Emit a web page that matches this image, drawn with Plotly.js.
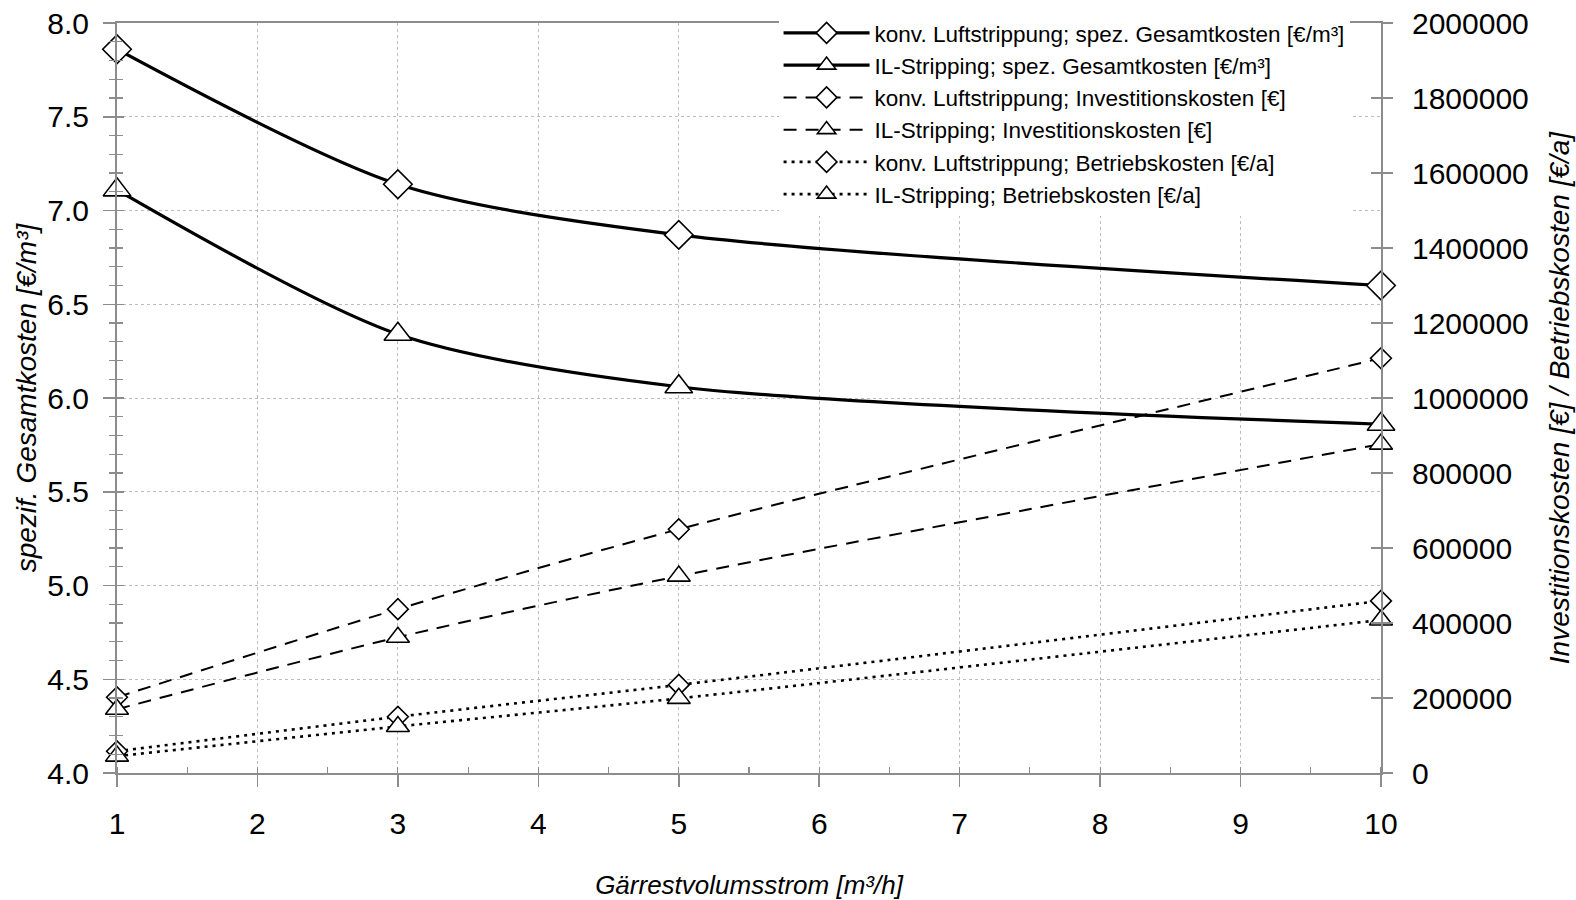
<!DOCTYPE html>
<html>
<head>
<meta charset="utf-8">
<script src="https://cdn.plot.ly/plotly-3.0.1.min.js"></script>
<style>html,body{margin:0;padding:0;background:#fff;}#chart{width:1576px;height:900px;}</style>
</head>
<body>
<div id="chart"></div>
<script>
// Gärrestvolumsstrom [m³/h]
const volumeFlow = [1, 3, 5, 10];
// spezif. Gesamtkosten [€/m³] (left axis)
const konvGesamtkosten = [7.86, 7.14, 6.87, 6.60];
const ilGesamtkosten = [7.11, 6.34, 6.06, 5.86];
// Investitionskosten [€] (right axis)
const konvInvestition = [202000, 437000, 650000, 1106000];
const ilInvestition = [170000, 362000, 525000, 877000];
// Betriebskosten [€/a] (right axis)
const konvBetrieb = [58000, 150000, 235000, 459000];
const ilBetrieb = [45000, 124000, 199000, 408000];

const seriesNames = [
  "konv. Luftstrippung; spez. Gesamtkosten [€/m³]",
  "IL-Stripping; spez. Gesamtkosten [€/m³]",
  "konv. Luftstrippung; Investitionskosten [€]",
  "IL-Stripping; Investitionskosten [€]",
  "konv. Luftstrippung; Betriebskosten [€/a]",
  "IL-Stripping; Betriebskosten [€/a]"
];

const FONT = "Liberation Sans, Arial, sans-serif";
const AXIS_GREY = "#8c8c8c";
const GRID_GREY = "#bdbdbd";

function mk(name, y, yaxis, dash, width, symbol, size) {
  return {
    type: "scatter", mode: "lines+markers", name: name,
    x: volumeFlow, y: y, yaxis: yaxis,
    line: {color: "#000", width: width, dash: dash, shape: "spline", smoothing: 0.8},
    marker: {symbol: symbol, size: size, color: "#fff", line: {color: "#000", width: 1.6}},
    cliponaxis: false
  };
}

const traces = [
  mk(seriesNames[0], konvGesamtkosten, "y", "solid", 3.2, "diamond", 22),
  mk(seriesNames[1], ilGesamtkosten, "y", "solid", 3.2, "triangle-up", 24),
  mk(seriesNames[2], konvInvestition, "y2", "13px,9px", 2, "diamond", 16),
  mk(seriesNames[3], ilInvestition, "y2", "13px,9px", 2, "triangle-up", 20),
  mk(seriesNames[4], konvBetrieb, "y2", "3px,5px", 2.6, "diamond", 16),
  mk(seriesNames[5], ilBetrieb, "y2", "3px,5px", 2.6, "triangle-up", 20)
];

const layout = {
  width: 1576, height: 900,
  paper_bgcolor: "#fff", plot_bgcolor: "#fff",
  margin: {l: 117, r: 195, t: 23, b: 127},
  font: {family: FONT, color: "#000"},
  showlegend: true,
  legend: {
    x: 0.5234, y: 1.015, xanchor: "left", yanchor: "top",
    bgcolor: "#fff", borderwidth: 0,
    font: {family: FONT, size: 22.5, color: "#000"},
    itemwidth: 86, tracegroupgap: 0
  },
  xaxis: {
    range: [1, 10], dtick: 1, tick0: 1,
    showline: true, linecolor: AXIS_GREY, linewidth: 2, mirror: true,
    showgrid: true, gridcolor: GRID_GREY, griddash: "dot", gridwidth: 1,
    ticks: "outside", ticklen: 12, tickwidth: 1.5, tickcolor: AXIS_GREY,
    minor: {ticks: "inside", dtick: 0.5, ticklen: 6, tickwidth: 1.2, tickcolor: AXIS_GREY, showgrid: false},
    tickfont: {family: FONT, size: 30, color: "#000"},
    ticklabelstandoff: 11,
    zeroline: false,
    title: {text: "Gärrestvolumsstrom [m³/h]", font: {family: FONT, size: 26, style: "italic"}, standoff: 38}
  },
  yaxis: {
    range: [4, 8], dtick: 0.5, tick0: 4, tickformat: ".1f",
    showline: true, linecolor: AXIS_GREY, linewidth: 2,
    showgrid: true, gridcolor: GRID_GREY, griddash: "dot", gridwidth: 1,
    ticks: "outside", ticklen: 12, tickwidth: 1.5, tickcolor: AXIS_GREY,
    minor: {ticks: "outside", dtick: 0.1, ticklen: 6, tickwidth: 1.2, tickcolor: AXIS_GREY, showgrid: false},
    tickfont: {family: FONT, size: 30, color: "#000"},
    ticklabelstandoff: 8,
    zeroline: false,
    title: {text: "spezif. Gesamtkosten [€/m³]", font: {family: FONT, size: 28, style: "italic"}, standoff: 2}
  },
  yaxis2: {
    range: [0, 2000000], dtick: 200000, tick0: 0, tickformat: "d",
    overlaying: "y", side: "right",
    showline: true, linecolor: AXIS_GREY, linewidth: 2,
    showgrid: false,
    ticks: "outside", ticklen: 10, tickwidth: 1.5, tickcolor: AXIS_GREY,
    tickfont: {family: FONT, size: 30, color: "#000"},
    ticklabelstandoff: 13,
    zeroline: false,
    title: {text: "Investitionskosten [€] / Betriebskosten [€/a]", font: {family: FONT, size: 28, style: "italic"}, standoff: 22}
  },
  yaxis3: {
    range: [4, 8], dtick: 0.5, tick0: 4, overlaying: "y", side: "left",
    showline: false, showgrid: false, showticklabels: false, zeroline: false,
    ticks: "inside", ticklen: 7, tickwidth: 1.5, tickcolor: AXIS_GREY,
    minor: {ticks: "inside", dtick: 0.1, ticklen: 6, tickwidth: 1.2, tickcolor: AXIS_GREY, showgrid: false}
  },
  yaxis4: {
    range: [0, 2000000], dtick: 200000, tick0: 0, overlaying: "y", side: "right",
    showline: false, showgrid: false, showticklabels: false, zeroline: false,
    ticks: "inside", ticklen: 10, tickwidth: 1.5, tickcolor: AXIS_GREY
  }
};

// invisible helper traces so the cross-tick overlay axes are drawn
traces.push({type: "scatter", x: [1], y: [4], yaxis: "y3", mode: "markers", marker: {opacity: 0}, showlegend: false, hoverinfo: "skip"});
traces.push({type: "scatter", x: [1], y: [0], yaxis: "y4", mode: "markers", marker: {opacity: 0}, showlegend: false, hoverinfo: "skip"});

Plotly.newPlot("chart", traces, layout, {displayModeBar: false, staticPlot: true});
</script>
</body>
</html>
